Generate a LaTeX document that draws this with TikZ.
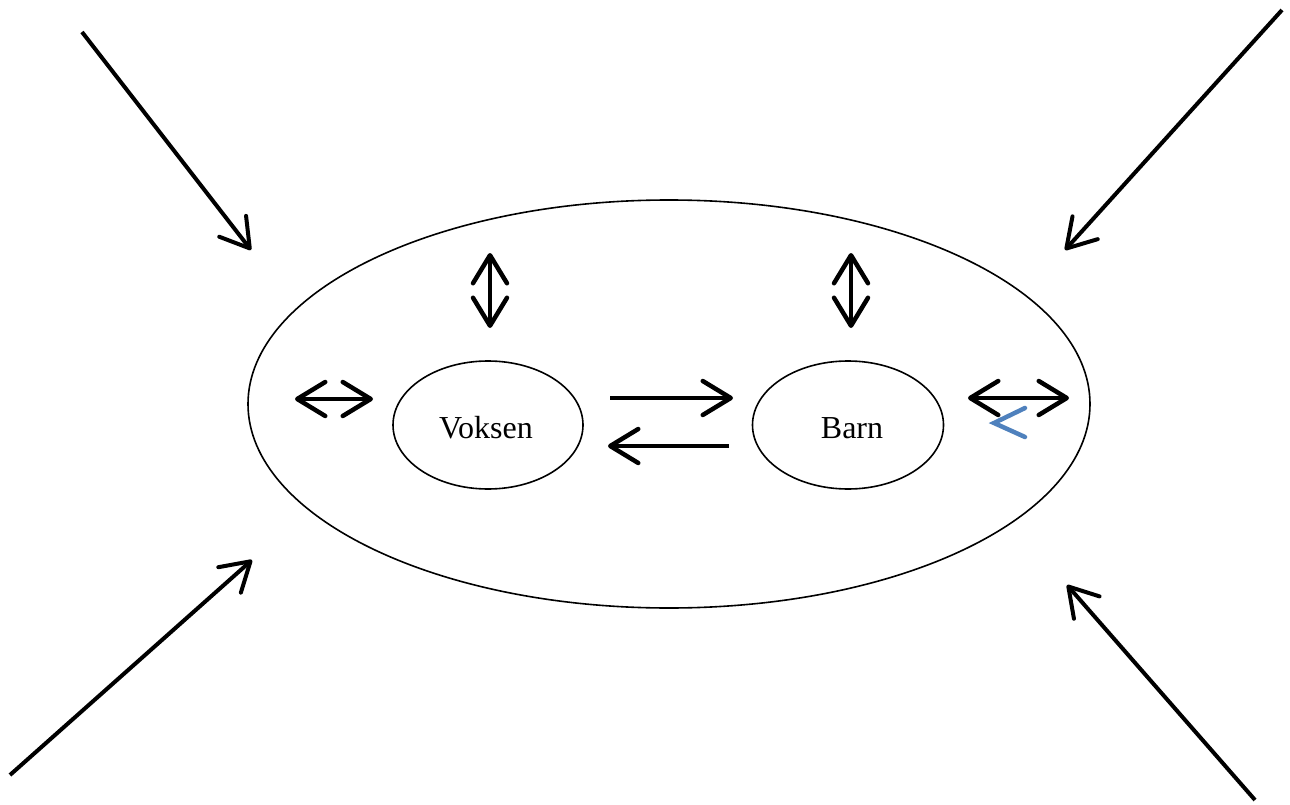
\documentclass[tikz,border=0pt]{standalone}
\usepackage{fontspec}
\setmainfont{Liberation Serif}
\usetikzlibrary{arrows.meta,shapes.geometric}
\definecolor{offblue}{HTML}{4F81BD}
\begin{document}
\begin{tikzpicture}[x=1pt,y=-1pt,
  oval/.style={draw,ellipse,line width=1.6pt,inner sep=0pt},
  tip/.style={Straight Barb[length=28pt,width=34pt,round]},
  harrow/.style={line width=4.5pt,-{Straight Barb[length=28pt,width=34pt,round]}},
  darrow/.style={line width=4.5pt,{Straight Barb[length=28pt,width=34pt,round]}-{Straight Barb[length=28pt,width=34pt,round]}},
  lbl/.style={font=\fontsize{32}{38}\selectfont}]
\useasboundingbox (0,0) rectangle (1290,805);
% big ellipse
\node[oval,minimum width=842pt,minimum height=408pt] (outer) at (669,404) {};
% inner ellipses
\node[oval,minimum width=190pt,minimum height=128pt] (voksen) at (488,425) {};
\node[lbl] (vtext) at (486,428) {Voksen};
\node[oval,minimum width=191pt,minimum height=128pt] (barn) at (848,425) {};
\node[lbl] (btext) at (852,428) {Barn};
% coordinates
\coordinate (tl1) at (82,32);   \coordinate (tl2) at (251,250);
\coordinate (tr1) at (1282,10); \coordinate (tr2) at (1065,250);
\coordinate (bl1) at (10,775);  \coordinate (bl2) at (252,560);
\coordinate (br1) at (1255,800);\coordinate (br2) at (1067,585);
\coordinate (v1a) at (490,253); \coordinate (v1b) at (490,328);
\coordinate (v2a) at (851,253); \coordinate (v2b) at (851,328);
\coordinate (h1a) at (295,399); \coordinate (h1b) at (373,399);
\coordinate (h2a) at (968,398); \coordinate (h2b) at (1069,398);
\coordinate (ra) at (610,398);  \coordinate (rb) at (733,398);
\coordinate (la) at (729,446);  \coordinate (lb) at (608,446);
\coordinate (c1) at (1025,408); \coordinate (c2) at (994,423); \coordinate (c3) at (1025,437);
% outer arrows
\draw[harrow,line width=4pt] (tl1) -- (tl2);
\draw[harrow,line width=4pt] (tr1) -- (tr2);
\draw[harrow,line width=4pt] (bl1) -- (bl2);
\draw[harrow,line width=4pt] (br1) -- (br2);
% double arrows
\draw[darrow] (v1a) -- (v1b);
\draw[darrow] (v2a) -- (v2b);
\draw[darrow] (h1a) -- (h1b);
\draw[darrow] (h2a) -- (h2b);
% between voksen and barn
\draw[harrow] (ra) -- (rb);
\draw[harrow] (la) -- (lb);
% blue mark
\draw[offblue,line width=4.5pt,line cap=round,line join=miter] (c1) -- (c2) -- (c3);
\end{tikzpicture}
\end{document}
